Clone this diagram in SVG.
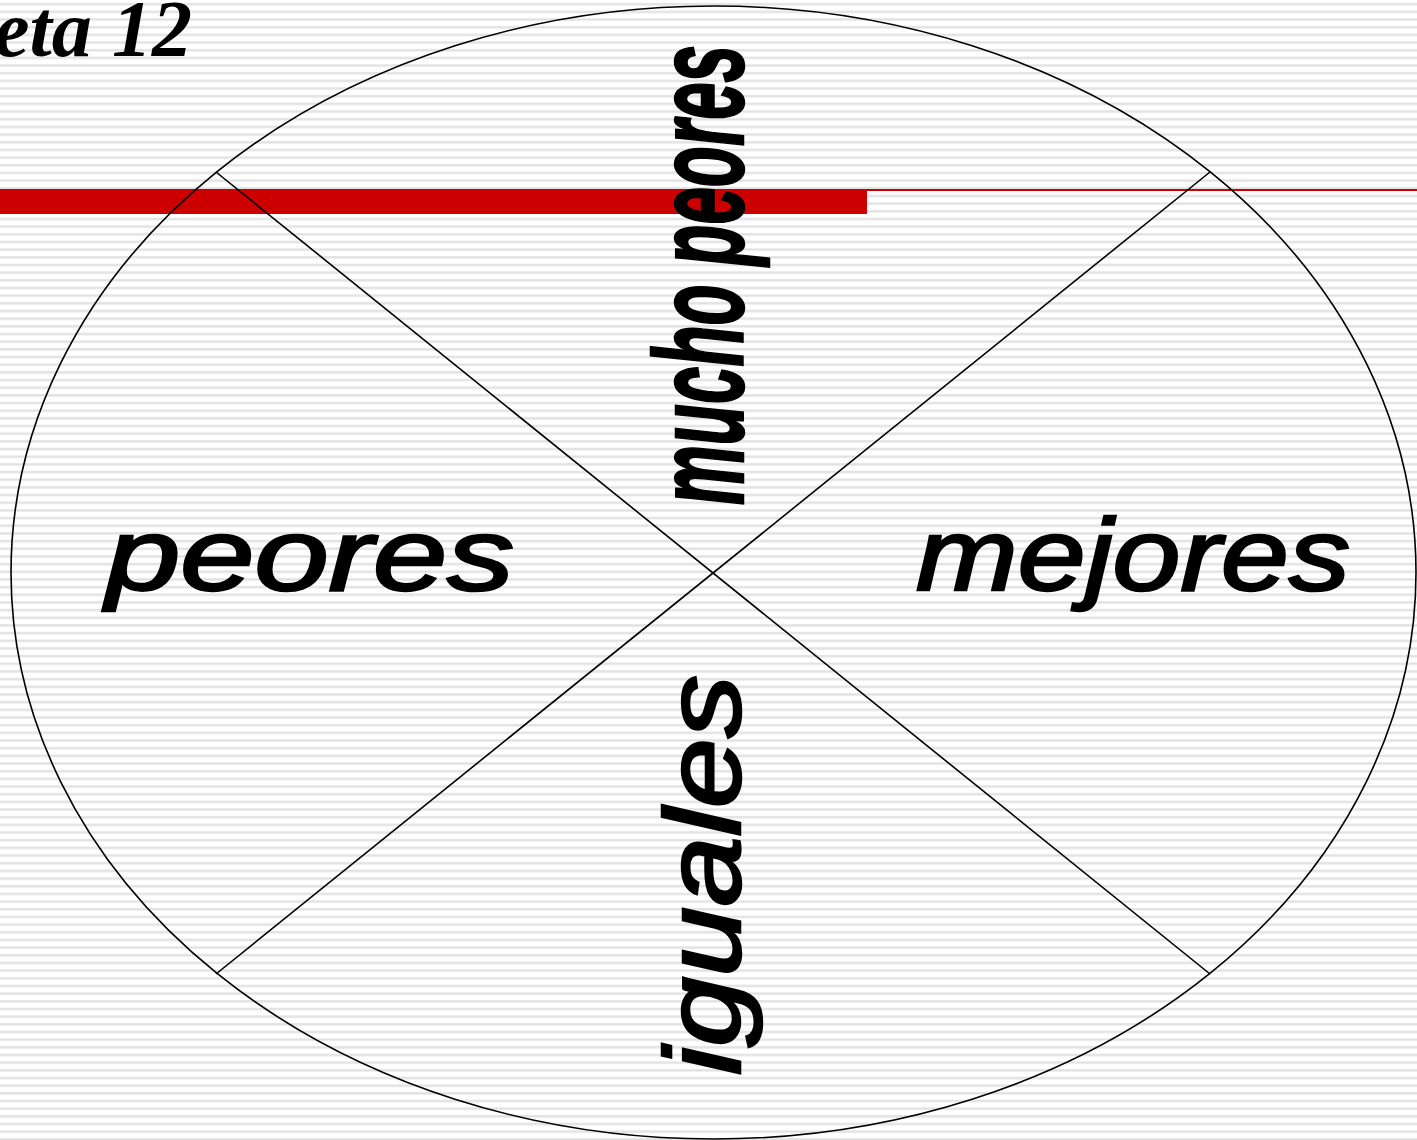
<svg xmlns="http://www.w3.org/2000/svg" width="1417" height="1140" viewBox="0 0 1417 1140">
  <defs>
    <pattern id="stripes" patternUnits="userSpaceOnUse" x="0" y="0" width="20" height="7.67">
      <rect x="0" y="0" width="20" height="7.67" fill="#ffffff"/>
      <rect x="0" y="3" width="20" height="2.4" fill="#e2e2e2"/>
    </pattern>
    <style>
      .lbl { font-family: "Liberation Sans", Arial, sans-serif; font-style: italic; fill: #000; stroke: #000; stroke-width: 2.5; }
      .ln { stroke: #000; stroke-width: 1.6; fill: none; }
    </style>
  </defs>
  <rect x="0" y="0" width="1417" height="1140" fill="url(#stripes)"/>

  <g id="title">
    <text x="-6" y="56" font-family="'Liberation Serif', serif" font-style="italic" font-weight="bold" font-size="80" textLength="198" lengthAdjust="spacingAndGlyphs" fill="#000">eta 12</text>
  </g>

  <g id="header-bar">
    <rect x="0" y="189" width="867" height="25" fill="#cc0000"/>
    <rect x="867" y="189" width="550" height="2" fill="#cc0000"/>
  </g>

  <g id="circle">
    <ellipse cx="713.5" cy="572.5" rx="702.5" ry="566.5" class="ln"/>
  </g>

  <g id="connectors">
    <line x1="216" y1="172" x2="1210" y2="974" class="ln"/>
    <line x1="1210" y1="172" x2="216" y2="974" class="ln"/>
  </g>

  <g id="node-peores">
    <text class="lbl" x="106" y="590" font-size="102" textLength="408" lengthAdjust="spacingAndGlyphs">peores</text>
  </g>
  <g id="node-mejores">
    <text class="lbl" x="916" y="590" font-size="102" textLength="434" lengthAdjust="spacingAndGlyphs">mejores</text>
  </g>
  <g id="node-mucho-peores">
    <text class="lbl" transform="translate(743,505) rotate(-90)" x="0" y="0" font-size="126" font-weight="bold" stroke-width="1" textLength="460" lengthAdjust="spacingAndGlyphs">mucho peores</text>
  </g>
  <g id="node-iguales">
    <text class="lbl" transform="translate(740,1075) rotate(-90)" x="0" y="0" font-size="108" textLength="400" lengthAdjust="spacingAndGlyphs">iguales</text>
  </g>
</svg>
